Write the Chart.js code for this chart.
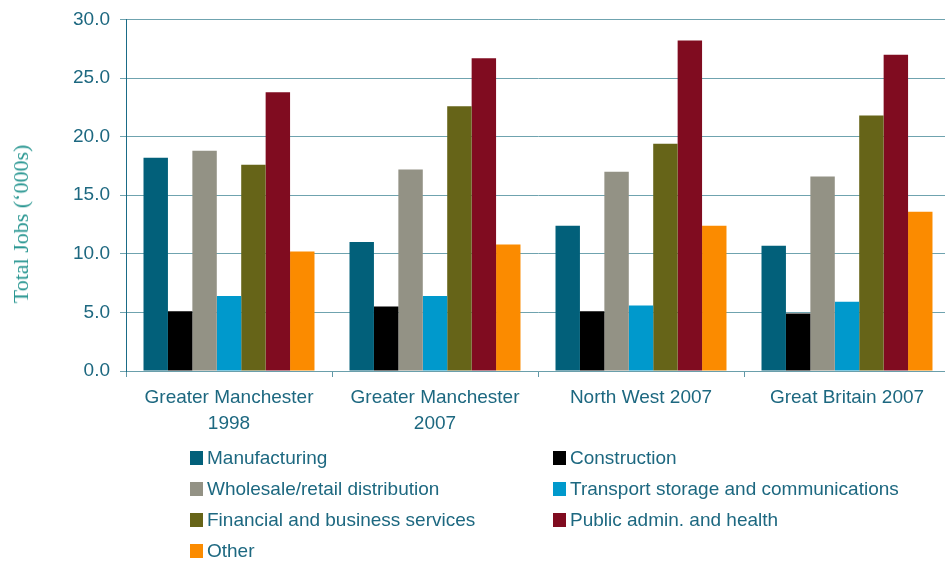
<!DOCTYPE html>
<html>
<head>
<meta charset="utf-8">
<script src="https://cdn.jsdelivr.net/npm/chart.js@4/dist/chart.umd.min.js"></script>
<style>
  html, body { margin: 0; padding: 0; background: #fff; overflow: hidden; }
  #wrap { position: relative; width: 945px; height: 563px; overflow: hidden; }
  #chart-box { position: absolute; left: 0; top: 0; width: 950px; height: 563px; }
  #y-title {
    position: absolute; left: 21px; top: 224px;
    transform: translate(-50%, -50%) rotate(-90deg);
    font: 22px "Liberation Serif", serif; color: #2a9792; white-space: nowrap;
  }
  #legend { position: absolute; left: 190px; top: 448px; width: 740px; }
  .item {
    position: absolute; font: 19px "Liberation Sans", Arial, sans-serif; color: #1d6880;
    white-space: nowrap; line-height: 20px;
  }
  .item span.box { display: inline-block; width: 13px; height: 14px; margin-right: 4px; vertical-align: -1px; }
</style>
</head>
<body>
<div id="wrap">
  <div id="chart-box"><canvas id="jobsChart"></canvas></div>
  <div id="y-title">Total Jobs (‘000s)</div>
  <div id="legend"></div>
</div>
<script>
const areas = [['Greater Manchester', '1998'], ['Greater Manchester', '2007'], 'North West 2007', 'Great Britain 2007'];
const yTicks = [0, 5, 10, 15, 20, 25, 30];

const manufacturing = [18.2, 11.0, 12.4, 10.7];
const construction = [5.1, 5.5, 5.1, 4.9];
const wholesale = [18.8, 17.2, 17.0, 16.6];
const transport = [6.4, 6.4, 5.6, 5.9];
const financial = [17.6, 22.6, 19.4, 21.8];
const publicAdmin = [23.8, 26.7, 28.2, 27.0];
const other = [10.2, 10.8, 12.4, 13.6];

const sectors = [
  { label: 'Manufacturing', data: manufacturing, color: '#02607a' },
  { label: 'Construction', data: construction, color: '#000000' },
  { label: 'Wholesale/retail distribution', data: wholesale, color: '#939285' },
  { label: 'Transport storage and communications', data: transport, color: '#0099cc' },
  { label: 'Financial and business services', data: financial, color: '#666418' },
  { label: 'Public admin. and health', data: publicAdmin, color: '#800c20' },
  { label: 'Other', data: other, color: '#fb8b00' },
];

const tickFont = { family: '"Liberation Sans", Arial, sans-serif', size: 19 };

new Chart(document.getElementById('jobsChart'), {
  type: 'bar',
  data: {
    labels: areas,
    datasets: sectors.map((s) => ({
      label: s.label,
      data: s.data,
      backgroundColor: s.color,
      borderWidth: 0,
      categoryPercentage: 0.83,
      barPercentage: 1,
    })),
  },
  options: {
    responsive: true,
    maintainAspectRatio: false,
    animation: false,
    layout: { padding: { top: 19, right: 0, bottom: 0, left: 0 } },
    plugins: { legend: { display: false }, tooltip: { enabled: false } },
    scales: {
      x: {
        grid: { drawOnChartArea: false, tickLength: 6, color: '#5f97a6' },
        border: { color: '#6a9fab', width: 1 },
        ticks: { color: '#1d6880', font: { ...tickFont, lineHeight: 1.35 }, padding: 8, maxRotation: 0, autoSkip: false },
        afterFit: (scale) => { scale.height = 192; },
      },
      y: {
        min: 0,
        max: 30,
        afterBuildTicks: (scale) => { scale.ticks = yTicks.map((v) => ({ value: v })); },
        grid: { color: '#6fa3af', tickLength: 6 },
        border: { color: '#1a6b86', width: 1 },
        ticks: { color: '#1d6880', font: { ...tickFont, lineHeight: 1 }, padding: 10, callback: (v) => v.toFixed(1) },
        afterFit: (scale) => { scale.width = 126; },
      },
    },
  },
});

const legend = document.getElementById('legend');
sectors.forEach((s, i) => {
  const item = document.createElement('div');
  item.className = 'item';
  item.style.left = (i % 2 ? 363 : 0) + 'px';
  item.style.top = Math.floor(i / 2) * 31 + 'px';
  item.innerHTML = `<span class="box" style="background:${s.color}"></span>${s.label}`;
  legend.appendChild(item);
});
</script>
</body>
</html>
